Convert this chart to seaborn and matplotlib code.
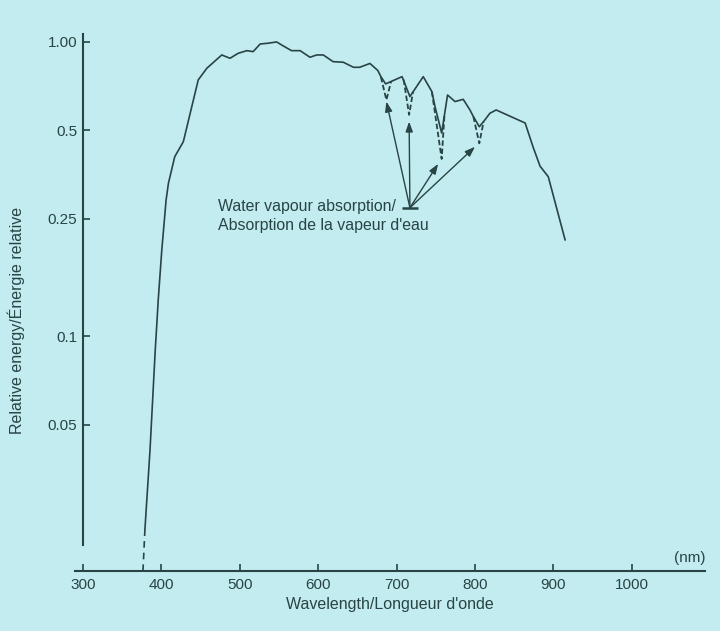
import numpy as np
import pandas as pd
import matplotlib
matplotlib.use("Agg")
import matplotlib.pyplot as plt
import seaborn as sns

# ---- data ----
wavelength = [379, 385.5, 392, 396, 400.5, 406, 409, 417, 428, 447, 458, 477, 487.5,
              498, 509, 517, 526, 536, 547, 555.5, 566, 577, 589.5, 598, 606.5, 619,
              632, 645, 653, 666, 676, 680, 686, 707, 717, 734, 745, 749, 757.5, 765,
              774.5, 785, 793.6, 798, 805.5, 811, 819, 827, 864, 874, 883, 893.5, 915]
energy = [0.022, 0.041, 0.088, 0.133, 0.196, 0.29, 0.331, 0.407, 0.458, 0.743, 0.814,
          0.903, 0.88, 0.915, 0.934, 0.927, 0.984, 0.99, 1.0, 0.969, 0.934, 0.934,
          0.887, 0.903, 0.903, 0.857, 0.853, 0.82, 0.82, 0.845, 0.80, 0.762, 0.72,
          0.762, 0.652, 0.762, 0.678, 0.603, 0.49, 0.66, 0.627, 0.638, 0.587, 0.557,
          0.515, 0.536, 0.572, 0.587, 0.53, 0.44, 0.378, 0.348, 0.212]

# dashed extension toward the axis at the short-wave end
tail_wavelength = [379, 376.5]
tail_energy = [0.022, 0.0159]

# dashed absorption dips (left arm, bottom, right arm)
dip_wavelength = [[680, 687, 693], [709, 716, 721], [745, 757.5, 761], [798, 805.5, 811]]
dip_energy = [[0.76, 0.635, 0.734], [0.745, 0.565, 0.678], [0.678, 0.40, 0.56], [0.557, 0.452, 0.536]]

# arrows from the label anchor to each dip
arrow_source = (717, 0.273)
arrow_tip_wavelength = [687, 716, 753, 800]
arrow_tip_energy = [0.627, 0.536, 0.385, 0.44]

y_ticks = [0.05, 0.1, 0.25, 0.5, 1.0]
y_tick_labels = ["0.05", "0.1", "0.25", "0.5", "1.00"]
x_ticks = [300, 400, 500, 600, 700, 800, 900, 1000]
x_tick_labels = ["300", "400", "500", "600", "700", "800", "900", "1000"]

# ---- style ----
BG = "#c3ecf0"
INK = "#284444"
sns.set_theme(style="ticks")
plt.rcParams["font.family"] = ["Liberation Sans", "DejaVu Sans"]
plt.rcParams["text.color"] = INK
plt.rcParams["axes.labelcolor"] = INK
plt.rcParams["xtick.color"] = INK
plt.rcParams["ytick.color"] = INK

fig = plt.figure(figsize=(7.2, 6.31), dpi=100, facecolor=BG)
ax = fig.add_axes([75 / 720, (631 - 571) / 631, 630 / 720, 541 / 631])
ax.set_facecolor(BG)

ax.set_yscale("log")
ax.set_xlim(289.8, 1093.4)
ax.set_ylim(0.01588, 1.098)

main = pd.DataFrame({"wavelength": wavelength, "energy": energy})
sns.lineplot(data=main, x="wavelength", y="energy", ax=ax, color=INK, lw=1.2,
             sort=False, estimator=None)
sns.lineplot(x=tail_wavelength, y=tail_energy, ax=ax, color=INK, lw=1.2,
             sort=False, estimator=None, linestyle=(0, (4, 3)))
for wl, en in zip(dip_wavelength, dip_energy):
    sns.lineplot(x=wl, y=en, ax=ax, color=INK, lw=1.3, sort=False, estimator=None,
                 linestyle=(0, (3, 1.5)))

for tx, ty in zip(arrow_tip_wavelength, arrow_tip_energy):
    ax.annotate("", xy=(tx, ty), xytext=arrow_source,
                arrowprops=dict(arrowstyle="-|>,head_length=0.5,head_width=0.18",
                                color=INK, lw=1.0, shrinkA=0, shrinkB=0))
ax.plot([arrow_source[0]], [arrow_source[1]], marker="_", markersize=11,
        markeredgewidth=1.8, color=INK)

ax.text(472, 0.292, "Water vapour absorption/\nAbsorption de la vapeur d'eau",
        ha="left", va="top", fontsize=11.4, linespacing=1.3, color=INK)

ax.set_yticks(y_ticks)
ax.set_yticklabels(y_tick_labels)
ax.yaxis.set_minor_locator(matplotlib.ticker.NullLocator())
ax.set_xticks(x_ticks)
ax.set_xticklabels(x_tick_labels)

ax.tick_params(axis="both", direction="in", length=5, width=1.2, labelsize=11)
ax.tick_params(axis="y", pad=4)
ax.tick_params(axis="x", pad=5)

for s in ["top", "right"]:
    ax.spines[s].set_visible(False)
ax.spines["left"].set_position(("data", 300))
ax.spines["left"].set_bounds(0.0195, 1.06)
ax.spines["left"].set_color(INK)
ax.spines["left"].set_linewidth(1.5)
ax.spines["bottom"].set_color(INK)
ax.spines["bottom"].set_linewidth(1.5)

ax.set_xlabel("Wavelength/Longueur d'onde", fontsize=11.5, labelpad=4)
ax.set_ylabel("Relative energy/Énergie relative", fontsize=11.5)
ax.yaxis.set_label_coords((25 - 75) / 630, 1 - (320 - 30) / 541)
ax.text(0.976, 0.012, "(nm)", transform=ax.transAxes, ha="center", va="bottom",
        fontsize=11, color=INK)

fig.savefig("out.png", dpi=100, facecolor=BG)
